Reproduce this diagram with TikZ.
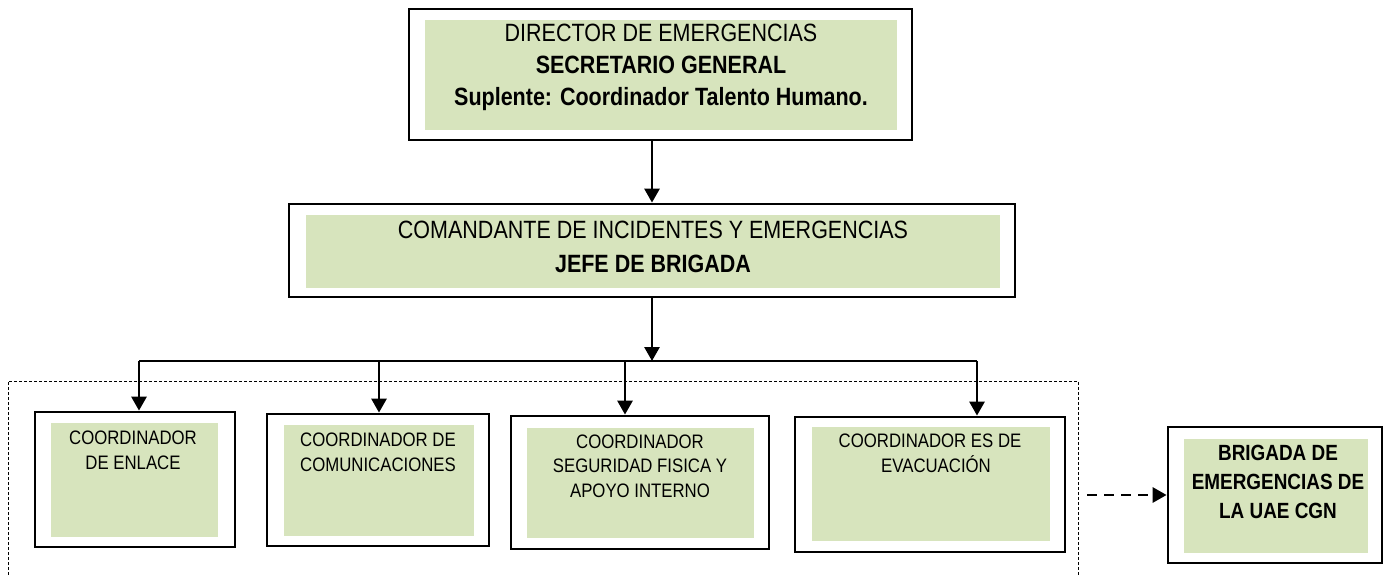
\documentclass[tikz,border=0pt]{standalone}
\usepackage{fontspec}
\setmainfont{Liberation Sans}[FakeStretch=0.86]
\usetikzlibrary{arrows.meta}
\definecolor{boxgreen}{HTML}{D7E4BD}
\tikzset{
  outerbox/.style={draw=black, line width=2.8pt, fill=white, inner sep=0pt},
  greenfill/.style={fill=boxgreen},
  txt/.style={inner sep=0pt, align=center, text=black},
  conn/.style={draw=black, line width=2.8pt, -{Triangle[length=14pt,width=15pt]}},
  busline/.style={draw=black, line width=2.8pt},
  group/.style={draw=black, line width=1pt, dash pattern=on 3pt off 2pt},
  dasharrow/.style={draw=black, line width=2.8pt, dash pattern=on 10pt off 7pt, -{Triangle[length=14pt,width=15pt]}}
}
\begin{document}
\begin{tikzpicture}[x=1pt,y=-1pt]
\useasboundingbox (0,0) rectangle (1384,575);
% group dashed frame
\draw[group] (8,585) -- (8,381) -- (1078,381) -- (1078,585);

% top box
\node[outerbox, minimum width=503pt, minimum height=131pt] (dir) at (660.5,74.5) {};
\fill[greenfill] (425,20) rectangle (897,130);
\node[txt, font=\fontsize{25}{32}\selectfont] (dirt) at (661,67)
  {DIRECTOR DE EMERGENCIAS\\\textbf{SECRETARIO GENERAL}\\\textbf{Suplente: Coordinador Talento Humano.}};

% middle box
\node[outerbox, minimum width=726pt, minimum height=93pt] (cmd) at (652,250.5) {};
\fill[greenfill] (306,215) rectangle (1000,288);
\node[txt, font=\fontsize{25}{34}\selectfont] (cmdt) at (653,247)
  {COMANDANTE DE INCIDENTES Y EMERGENCIAS\\\textbf{JEFE DE BRIGADA}};

% bottom boxes
\node[outerbox, minimum width=200pt, minimum height=135pt] (c1) at (135,479.5) {};
\fill[greenfill] (51,423) rectangle (218,537);
\node[txt, font=\fontsize{19.5}{25}\selectfont] (c1t) at (133,450)
  {COORDINADOR\\DE ENLACE};

\node[outerbox, minimum width=222pt, minimum height=132pt] (c2) at (378,480) {};
\fill[greenfill] (284,425) rectangle (474,536);
\node[txt, font=\fontsize{19.5}{25}\selectfont] (c2t) at (378,452)
  {COORDINADOR DE\\COMUNICACIONES};

\node[outerbox, minimum width=258pt, minimum height=133pt] (c3) at (640,482.5) {};
\fill[greenfill] (527,428) rectangle (754,538);
\node[txt, font=\fontsize{19.5}{24.5}\selectfont] (c3t) at (640,466)
  {COORDINADOR\\SEGURIDAD FISICA Y\\APOYO INTERNO};

\node[outerbox, minimum width=270pt, minimum height=135pt] (c4) at (930,484.5) {};
\fill[greenfill] (812,427) rectangle (1050,541);
\node[txt, font=\fontsize{19.5}{25}\selectfont] (c4t) at (930,453)
  {COORDINADOR ES DE\\\hspace*{12pt}EVACUACIÓN};

% right box
\node[outerbox, minimum width=214pt, minimum height=136pt] (brig) at (1275,495) {};
\fill[greenfill] (1184,439) rectangle (1368,553);
\node[txt, font=\bfseries\fontsize{22}{29}\selectfont] (brigt) at (1278,482)
  {BRIGADA DE\\EMERGENCIAS DE\\LA UAE CGN};

% connectors
\coordinate (bus) at (652,361);
\coordinate (busL) at (139,361);
\coordinate (busR) at (977,361);
\coordinate (bus2) at (379,361);
\coordinate (bus3) at (625,361);
\coordinate (dstart) at (1087,495);

\draw[conn] (cmd.north |- dir.south) -- (cmd.north);
\draw[conn] (cmd.south) -- (bus);
\draw[busline] (busL) -- (busR);
\draw[conn] (busL) -- (busL |- c1.north);
\draw[conn] (bus2) -- (bus2 |- c2.north);
\draw[conn] (bus3) -- (bus3 |- c3.north);
\draw[conn] (busR) -- (busR |- c4.north);
\draw[dasharrow] (dstart) -- (brig.west);
\end{tikzpicture}
\end{document}
